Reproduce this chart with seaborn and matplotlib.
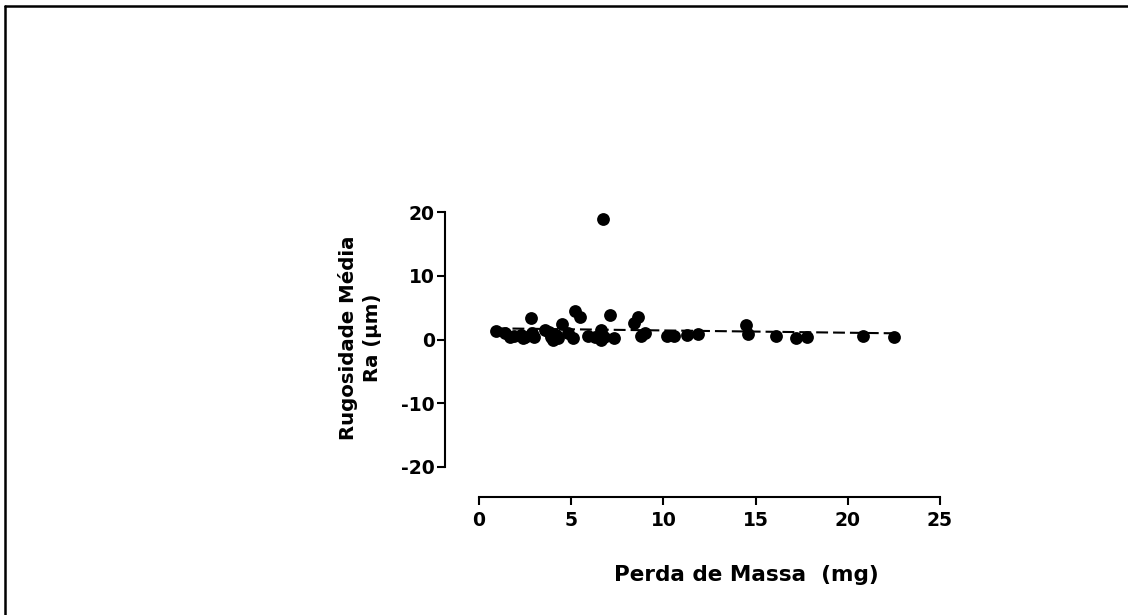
import matplotlib
matplotlib.use("Agg")
import matplotlib.pyplot as plt
import seaborn as sns
import pandas as pd
from matplotlib.lines import Line2D

# Perda de massa (mg) e rugosidade media Ra (um)
perda_massa = [0.9, 1.4, 1.7, 1.9, 2.3, 2.4, 2.5, 2.8, 2.9, 3.0, 3.6, 3.8, 3.9, 4.0,
               4.2, 4.3, 4.5, 4.8, 5.1, 5.2, 5.5, 5.9, 6.3, 6.6, 6.6, 6.7, 6.8, 7.1,
               7.3, 8.4, 8.6, 8.8, 9.0, 10.2, 10.6, 11.3, 11.9, 14.5, 14.6, 16.1,
               17.2, 17.8, 20.8, 22.5]
rugosidade = [1.4, 1.0, 0.45, 0.55, 0.7, 0.2, 0.45, 3.3, 1.0, 0.45, 1.5, 1.2, 0.45, 0.0,
              0.7, 0.3, 2.5, 1.0, 0.2, 4.4, 3.6, 0.6, 0.45, 1.5, -0.1, 18.85, 0.45, 3.85,
              0.3, 2.6, 3.5, 0.5, 1.0, 0.6, 0.5, 0.7, 0.8, 2.2, 0.9, 0.6,
              0.2, 0.45, 0.5, 0.35]
x_ticks = [0, 5, 10, 15, 20, 25]
y_ticks = [-20, -10, 0, 10, 20]

df = pd.DataFrame({"Perda": perda_massa, "Ra": rugosidade})

sns.set_style("ticks")
plt.rcParams["font.family"] = ["DejaVu Sans"]
plt.rcParams["text.color"] = "black"
plt.rcParams["xtick.color"] = "black"
plt.rcParams["ytick.color"] = "black"
plt.rcParams["axes.edgecolor"] = "black"

fig = plt.figure(figsize=(11.28, 6.15), dpi=100)
ax = fig.add_axes([479 / 1128, 1 - 467 / 615, 461 / 1128, 255 / 615])

sns.regplot(data=df, x="Perda", y="Ra", ax=ax, ci=None, color="black",
            scatter_kws={"s": 85, "linewidths": 0, "alpha": 1},
            line_kws={"linestyle": (0, (5.7, 2.4)), "linewidth": 1.5})

ax.set_xlim(0, 25)
ax.set_ylim(-20, 20)
ax.set_xticks(x_ticks)
ax.set_yticks(y_ticks)
ax.set_yticklabels([str(v) for v in y_ticks])
ax.set_xlabel("")
ax.set_ylabel("")
for s in ["top", "right"]:
    ax.spines[s].set_visible(False)
ax.spines["left"].set_position(("outward", 24.5))
ax.spines["bottom"].set_position(("outward", 21.6))
for s in ["left", "bottom"]:
    ax.spines[s].set_linewidth(1.5)
ax.tick_params(width=1.5, length=5.8, labelsize=13.5)
ax.tick_params(axis="y", pad=1.5)
ax.tick_params(axis="x", pad=4)
for lab in ax.get_xticklabels() + ax.get_yticklabels():
    lab.set_fontweight("bold")

fig.text(746 / 1128, 1 - 575 / 615, "Perda de Massa  (mg)", ha="center", va="center",
         fontsize=15.5, fontweight="bold")
fig.text(360 / 1128, 1 - 338 / 615, "Rugosidade Média\nRa (μm)", ha="center", va="center",
         rotation=90, fontsize=14.2, fontweight="bold", linespacing=1.3)

# moldura
fig.add_artist(Line2D([5 / 1128, 5 / 1128], [0, 1 - 6 / 615], color="black", lw=1.8,
                      transform=fig.transFigure))
fig.add_artist(Line2D([5 / 1128, 1], [1 - 6 / 615, 1 - 6 / 615], color="black", lw=1.8,
                      transform=fig.transFigure))

fig.savefig("out.png", dpi=100)
